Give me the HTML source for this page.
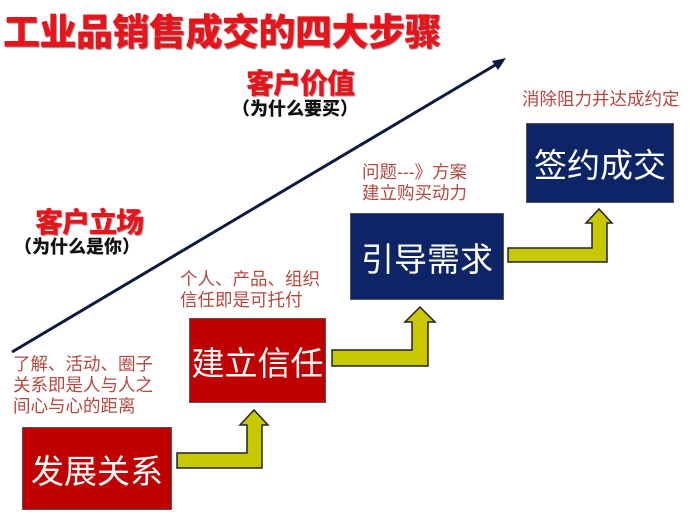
<!DOCTYPE html>
<html><head><meta charset="utf-8"><style>
body{margin:0;width:690px;height:520px;background:#fff;position:relative;overflow:hidden;font-family:"Liberation Sans","Noto Sans CJK SC",sans-serif}
.t{position:absolute;white-space:nowrap}
.box{position:absolute;color:#fff;display:flex;align-items:center;justify-content:center;font-size:33px;border:1px solid #555;box-sizing:border-box}
.r{background:#c00000}.n{background:#0d2566}
.s{color:#b5473f;font-size:17.5px;line-height:21px}
.h{color:#e8141c;font-weight:900;font-size:28px;text-shadow:1px 1px 1px #999;letter-spacing:-1px}
.p{color:#111;font-weight:900;font-size:18px}
</style></head><body>
<div class="t" style="left:3px;top:2px;font-size:37px;font-weight:900;color:#e8141c;text-shadow:1px 1px 1px #888;letter-spacing:-0.5px">工业品销售成交的四大步骤</div>
<svg width="690" height="520" style="position:absolute;left:0;top:0">
<line x1="12" y1="352" x2="502" y2="61" stroke="#0d1a40" stroke-width="3"/>
<polygon points="506,58 492,61 498,70" fill="#0d1a40"/>
<g fill="#c8c800" stroke="#222" stroke-width="1.5">
<polygon points="177,453 247,453 247,425 240,425 254,410 268,425 262,425 262,468 177,468"/>
<polygon points="332,350 412,350 412,322 405,322 420,307 435,322 428,322 428,366 332,366"/>
<polygon points="508,248 592,248 592,223 586,223 599,209 612,223 607,223 607,262 508,262"/>
</g>
</svg>
<div class="box r" style="left:22px;top:427px;width:150px;height:83px">发展关系</div>
<div class="box r" style="left:189px;top:318px;width:137px;height:85px">建立信任</div>
<div class="box n" style="left:350px;top:213px;width:154px;height:87px">引导需求</div>
<div class="box n" style="left:526px;top:123px;width:148px;height:80px">签约成交</div>
<div class="t h" style="left:246px;top:62px">客户价值</div>
<div class="t p" style="left:232px;top:95px">（为什么要买）</div>
<div class="t h" style="left:35px;top:201px">客户立场</div>
<div class="t p" style="left:14px;top:233px">（为什么是你）</div>
<div class="t s" style="left:522px;top:89px">消除阻力并达成约定</div>
<div class="t s" style="left:362px;top:162px">问题---》方案<br>建立购买动力</div>
<div class="t s" style="left:180px;top:269px">个人、产品、组织<br>信任即是可托付</div>
<div class="t s" style="left:13px;top:354px">了解、活动、圈子<br>关系即是人与人之<br>间心与心的距离</div>
</body></html>
